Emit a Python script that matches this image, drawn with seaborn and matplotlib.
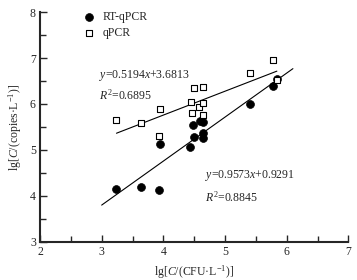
import numpy as np
import pandas as pd
import matplotlib
matplotlib.use("Agg")
import matplotlib.pyplot as plt
from matplotlib.ticker import MultipleLocator
import seaborn as sns

# ── Data ────────────────────────────────────────────────────────────────────
rt_x   = [3.24, 3.63, 3.93, 3.95, 4.43, 4.49, 4.48, 4.59, 4.64, 4.64, 4.64, 5.41, 5.78, 5.84]
rt_y   = [4.16, 4.19, 4.13, 5.14, 5.07, 5.28, 5.55, 5.62, 5.60, 5.37, 5.27, 5.99, 6.39, 6.54]
q_x    = [3.24, 3.63, 3.93, 3.95, 4.44, 4.49, 4.64, 4.58, 4.65, 4.47, 4.65, 5.41, 5.78, 5.84]
q_y    = [5.65, 5.58, 5.30, 5.90, 6.04, 6.34, 6.36, 5.93, 6.03, 5.80, 5.76, 6.67, 6.96, 6.52]

rt_fit = (0.9573, 0.9291)
q_fit  = (0.5194, 3.6813)
rt_line_x = [3.0, 6.1]
q_line_x  = [3.24, 5.84]

rt_eq = [r"$y$=0.9573$x$+0.9291", r"$R^2$=0.8845"]
q_eq  = [r"$y$=0.5194$x$+3.6813", r"$R^2$=0.6895"]

# ── Style ───────────────────────────────────────────────────────────────────
sns.set_style("ticks")
plt.rcParams["font.family"] = ["Liberation Serif", "DejaVu Serif"]
plt.rcParams["mathtext.fontset"] = "custom"
plt.rcParams["mathtext.rm"] = "Liberation Serif"
plt.rcParams["mathtext.it"] = "Liberation Serif:italic"

fig = plt.figure(figsize=(3.57, 2.80), dpi=100)
ax = fig.add_axes([0.112, 0.136, 0.864, 0.821])

df = pd.concat([
    pd.DataFrame({"x": rt_x, "y": rt_y, "method": "RT-qPCR"}),
    pd.DataFrame({"x": q_x, "y": q_y, "method": "qPCR"}),
])

sns.scatterplot(data=df[df.method == "RT-qPCR"], x="x", y="y", ax=ax,
                marker="o", s=32, color="black", edgecolor="black",
                linewidth=0.5, label="RT-qPCR", zorder=3)
sns.scatterplot(data=df[df.method == "qPCR"], x="x", y="y", ax=ax,
                marker="s", s=22, facecolor="white", edgecolor="black",
                linewidth=0.8, label="qPCR", zorder=4)

for (a, b), xs in [(rt_fit, rt_line_x), (q_fit, q_line_x)]:
    xs = np.array(xs)
    ax.plot(xs, a * xs + b, color="black", linewidth=0.8, zorder=2)

fs = 8.5
ax.text(2.95, 6.62, q_eq[0], fontsize=fs, va="center")
ax.text(2.95, 6.19, q_eq[1], fontsize=fs, va="center")
ax.text(4.68, 4.45, rt_eq[0], fontsize=fs, va="center")
ax.text(4.68, 3.98, rt_eq[1], fontsize=fs, va="center")

ax.set_xlim(2, 7)
ax.set_ylim(3, 8)
ax.xaxis.set_major_locator(MultipleLocator(1))
ax.xaxis.set_minor_locator(MultipleLocator(0.5))
ax.yaxis.set_major_locator(MultipleLocator(1))
ax.yaxis.set_minor_locator(MultipleLocator(0.5))
ax.tick_params(which="both", direction="in", width=1.0, labelsize=fs, pad=3)
ax.tick_params(which="major", length=5)
ax.tick_params(which="minor", length=4)
sns.despine(ax=ax)
for s in ["left", "bottom"]:
    ax.spines[s].set_linewidth(1.5)

ax.set_xlabel(r"lg[$C$/(CFU·L$^{-1}$)]", fontsize=fs, labelpad=4)
ax.set_ylabel(r"lg[$C$/(copies·L$^{-1}$)]", fontsize=fs, labelpad=4)

ax.legend(loc="upper left", bbox_to_anchor=(0.095, 1.04), frameon=False,
          fontsize=fs, handletextpad=0.1, labelspacing=0.3, borderpad=0.2)

fig.savefig("out.png", dpi=100)
